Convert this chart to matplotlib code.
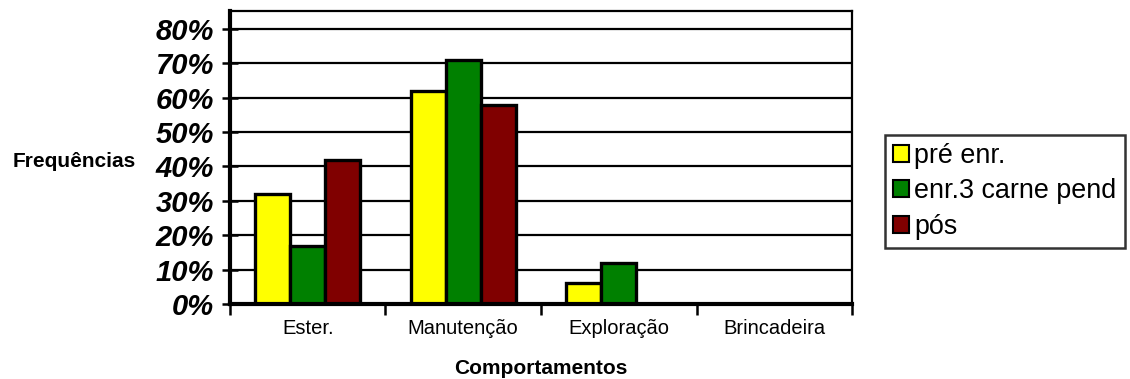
import numpy as np
import matplotlib.pyplot as plt
from matplotlib.ticker import FixedLocator, PercentFormatter

plt.rcParams['font.family'] = ['Liberation Sans', 'DejaVu Sans']

categories = ['Ester.', 'Manutenção', 'Exploração', 'Brincadeira']
series_names = ['pré enr.', 'enr.3 carne pend', 'pós']
pre_enr = [0.32, 0.62, 0.06, 0.0]
enr3_carne = [0.17, 0.71, 0.12, 0.0]
pos = [0.42, 0.58, 0.0, 0.0]
y_ticks = [0.0, 0.1, 0.2, 0.3, 0.4, 0.5, 0.6, 0.7, 0.8]

colors = ['#ffff00', '#008000', '#800000']


def draw_chart():
    fig = plt.figure(figsize=(11.3, 3.79), dpi=100)
    ax = fig.add_axes([0.2035, 0.198, 0.5505, 0.773])

    x = np.arange(len(categories))
    width = 0.225
    for i, (vals, name) in enumerate(zip([pre_enr, enr3_carne, pos], series_names)):
        offs = (i - 1) * width
        ax.bar(x + offs, vals, width, color=colors[i], edgecolor='black',
               linewidth=2.4, label=name, zorder=3)

    ax.set_xlim(-0.5, len(categories) - 0.5)
    ax.set_ylim(0, 0.852)

    # y axis: bold italic percentages, ticks crossing the axis
    ax.yaxis.set_major_locator(FixedLocator(y_ticks))
    ax.yaxis.set_major_formatter(PercentFormatter(1.0, decimals=0))
    ax.tick_params(axis='y', direction='inout', length=11, width=1.8, pad=6)
    for lbl in ax.get_yticklabels():
        lbl.set_fontsize(21)
        lbl.set_fontweight('bold')
        lbl.set_fontstyle('italic')

    # x axis: labels at category centres, tick marks between categories
    ax.set_xticks(x)
    ax.set_xticklabels(categories, fontsize=14.5)
    ax.set_xticks(np.arange(len(categories) + 1) - 0.5, minor=True)
    ax.tick_params(axis='x', which='major', length=0, pad=11)
    ax.tick_params(axis='x', which='minor', direction='out', length=8, width=1.8)

    ax.grid(axis='y', color='black', linewidth=1.6, zorder=1)
    ax.set_axisbelow(True)

    ax.spines['left'].set_linewidth(3)
    ax.spines['bottom'].set_linewidth(3)
    ax.spines['top'].set_linewidth(1.6)
    ax.spines['right'].set_linewidth(1.6)
    for s in ax.spines.values():
        s.set_zorder(4)

    ax.set_xlabel('Comportamentos', fontsize=15, fontweight='bold', labelpad=15)
    fig.text(0.0115, 0.575, 'Frequências', fontsize=15, fontweight='bold',
             ha='left', va='center')

    leg = fig.legend(loc='center left', bbox_to_anchor=(0.783, 0.495),
                     frameon=True, fancybox=False, edgecolor='black',
                     fontsize=19.4, handlelength=0.6, handleheight=0.6,
                     handletextpad=0.2, borderpad=0.3, labelspacing=0.34,
                     borderaxespad=0)
    leg.get_frame().set_linewidth(1.8)
    for h in leg.legend_handles:
        h.set_linewidth(1.5)

    fig.savefig('out.png', dpi=100)


def main():
    draw_chart()


if __name__ == "__main__":
    main()
